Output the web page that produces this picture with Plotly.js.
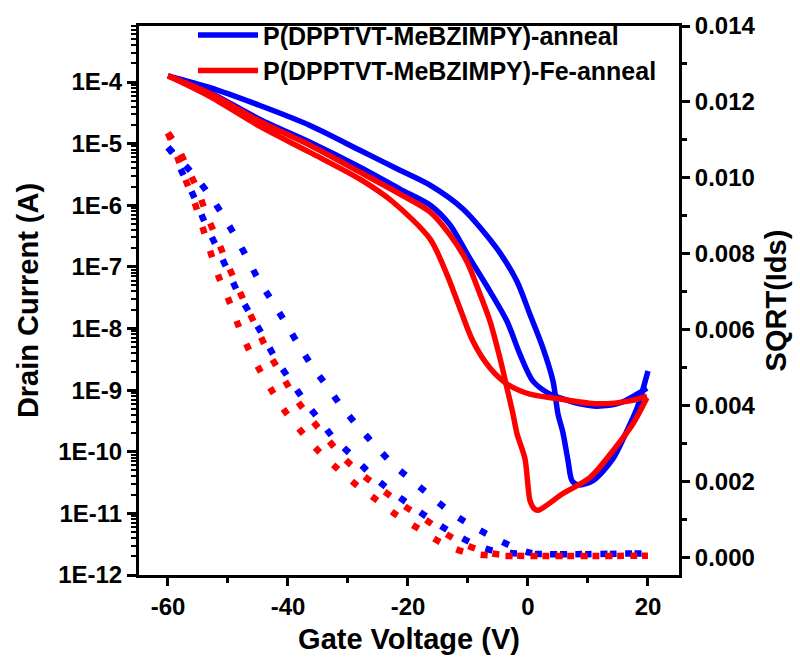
<!DOCTYPE html>
<html><head><meta charset="utf-8">
<script src="https://cdn.plot.ly/plotly-3.0.1.min.js"></script>
<style>html,body{margin:0;padding:0;background:#fff}#chart{width:800px;height:659px}</style>
</head><body><div id="chart"></div>
<script>
// Gate voltage (V) and drain current (A) - transfer curves (log axis)
const vBlueA = [-60,-53,-44.67,-36.33,-28,-21.33,-16.33,-10.83,-5.17,-1.83,0.33,2.5,4.17,5,5.83,6.67,7.33,8.33,10.83,14.17,16.5,18.17,19.17,20];
const iBlueA = [1.26e-4,8.1e-5,4.15e-5,1.97e-5,7.8e-6,3.7e-6,2.12e-6,8.7e-7,1.97e-7,5.8e-8,1.69e-8,4.8e-9,1.4e-9,4.1e-10,2.03e-10,7.2e-11,3.4e-11,2.9e-11,3.4e-11,7.7e-11,2.19e-10,5.1e-10,1.04e-9,2.04e-9];
const vBlueB = [-60,-53,-44.67,-36.33,-28,-21.33,-16.33,-13,-9.67,-6.33,-3.5,-1.33,0.83,3.67,5.33,8.67,11.5,15.33,18.17,19.83];
const iBlueB = [1.26e-4,6.7e-5,2.47e-5,1.05e-5,4.14e-6,1.83e-6,1.01e-6,4.8e-7,1.36e-7,4.0e-8,1.31e-8,3.8e-9,1.4e-9,8.6e-10,7.5e-10,6.0e-10,5.5e-10,6.2e-10,8.6e-10,1.08e-9];
const vRedA = [-60,-53,-44.67,-36.33,-28,-21.33,-16.33,-13,-10.17,-8,-6.33,-4.67,-3.5,-2.5,-1.83,-0.5,0.33,1,1.67,5.83,10.33,14.17,17.5,19.83];
const iRedA = [1.26e-4,6.5e-5,2.29e-5,9.4e-6,3.44e-6,1.52e-6,7.8e-7,3.3e-7,1.21e-7,3.6e-8,1.31e-8,3.3e-9,1.08e-9,4.1e-10,1.96e-10,7.7e-11,1.62e-11,1.2e-11,1.12e-11,2.1e-11,3.8e-11,1.04e-10,2.84e-10,7.5e-10];
const vRedB = [-60,-53,-44.67,-36.33,-28,-22.5,-16.33,-13.5,-11.33,-9.17,-6.33,-3.5,0.33,5.33,11.5,17,19.83];
const iRedB = [1.26e-4,5.8e-5,1.9e-5,7.2e-6,2.65e-6,1.13e-6,2.85e-7,7.5e-8,2.11e-8,6.2e-9,2.28e-9,1.26e-9,8.6e-10,7.2e-10,6.0e-10,6.7e-10,8.0e-10];

// SQRT(Ids) curves (right linear axis)
const vSqBlueA = [-60,-56,-53.33,-51,-48.83,-46.83,-44.83,-42.5,-40.33,-38.17,-35.83,-33.33,-30.83,-28.17,-25.17,-22.33,-19.17,-16,-12.67,-9.17,-5.5,-2.2,0.3,3,8,14,20];
const sqBlueA = [0.0108,0.01013,0.0096,0.00905,0.00847,0.00789,0.00729,0.00671,0.00616,0.00558,0.005,0.00447,0.00392,0.00342,0.00289,0.00242,0.002,0.00158,0.00116,0.00081,0.0005,0.00025,0.00012,0.00008,0.00008,0.00009,0.0001];
const vSqBlueB = [-60,-59.33,-57.5,-55.5,-53.83,-52,-50.17,-48.33,-46.33,-44.17,-42.17,-39.83,-37.5,-35,-32.33,-29.33,-26.17,-23,-19.33,-16,-12.5,-8.5,-5,0,10,20];
const sqBlueB = [0.0108,0.01066,0.0101,0.00944,0.00881,0.00821,0.0076,0.00697,0.00642,0.00584,0.00526,0.00471,0.00418,0.00366,0.00313,0.00268,0.00218,0.00176,0.00134,0.00097,0.00063,0.00031,0.00014,0.00009,0.00008,0.0001];
const vSqRedA = [-60,-58.5,-56.67,-55,-53.5,-51.83,-50.17,-48.5,-46.83,-45,-43.17,-41,-38.83,-36.33,-33.5,-30.83,-27.5,-24.17,-20.83,-17.17,-13.83,-10.17,-6,-2,5,12,20];
const sqRedA = [0.01118,0.01084,0.01023,0.00966,0.009,0.00839,0.00776,0.00716,0.00658,0.00597,0.00537,0.00479,0.00421,0.00368,0.00313,0.00263,0.00216,0.00176,0.00137,0.001,0.00063,0.00031,0.0001,0.00004,0.00003,0.00003,0.00004];
const vSqRedB = [-60,-58.33,-57,-55.5,-54.17,-52.83,-51.5,-49.83,-48.33,-46.67,-44.67,-42.5,-40.33,-37.67,-35,-31.83,-28.5,-25.17,-21.83,-18.33,-14.33,-10.5,-6,0,10,20];
const sqRedB = [0.01118,0.0105,0.00992,0.00931,0.00866,0.008,0.00737,0.00676,0.00613,0.00552,0.00492,0.00434,0.00381,0.00329,0.00281,0.00234,0.00189,0.0015,0.0011,0.00076,0.00037,0.00013,0.00004,0.00003,0.00003,0.00004];

// Tick labels
const xTicks = [-60,-40,-20,0,20];
const xTickText = ['-60','-40','-20','0','20'];
const yTickVals = [1e-12,1e-11,1e-10,1e-9,1e-8,1e-7,1e-6,1e-5,1e-4];
const yTickText = ['1E-12','1E-11','1E-10','1E-9','1E-8','1E-7','1E-6','1E-5','1E-4'];
const legendNames = ['P(DPPTVT-MeBZIMPY)-anneal','P(DPPTVT-MeBZIMPY)-Fe-anneal'];

const BLUE = '#0000ff', RED = '#ff0000';
const minorLog = [];
for (let e = -12; e <= -4; e++) {
  for (let d = 2; d <= 9; d++) {
    const v = d * Math.pow(10, e);
    if (v < 8.1e-4) minorLog.push(v);
  }
}

const solidW = 5.5, dotW = 6.5, dotDash = '7px,18px';
const sl = (c) => ({color:c, width:solidW, shape:'spline', smoothing:0.8});
const dl = (c) => ({color:c, width:dotW, dash:dotDash, shape:'spline', smoothing:0.8});
const traces = [
  {x: vBlueA, y: iBlueA, mode:'lines', line:sl(BLUE), name: legendNames[0], showlegend:true},
  {x: vBlueB, y: iBlueB, mode:'lines', line:sl(BLUE), showlegend:false},
  {x: vRedA, y: iRedA, mode:'lines', line:sl(RED), name: legendNames[1], showlegend:true},
  {x: vRedB, y: iRedB, mode:'lines', line:sl(RED), showlegend:false},
  {x: vSqBlueA, y: sqBlueA, yaxis:'y2', mode:'lines', line:dl(BLUE), showlegend:false},
  {x: vSqBlueB, y: sqBlueB, yaxis:'y2', mode:'lines', line:dl(BLUE), showlegend:false},
  {x: vSqRedA, y: sqRedA, yaxis:'y2', mode:'lines', line:dl(RED), showlegend:false},
  {x: vSqRedB, y: sqRedB, yaxis:'y2', mode:'lines', line:dl(RED), showlegend:false}
];

const FONT = {family:'Arial, "Liberation Sans", sans-serif', weight:'bold', color:'#000'};
const layout = {
  width:800, height:659,
  margin:{l:139, r:121, t:23, b:84, pad:0},
  paper_bgcolor:'#fff', plot_bgcolor:'#fff',
  font: Object.assign({}, FONT, {size:24}),
  showlegend:true,
  legend:{x:0.1, y:1.025, xanchor:'left', yanchor:'top', bgcolor:'rgba(0,0,0,0)',
          font:Object.assign({}, FONT, {size:25}), itemwidth:60, tracegroupgap:0},
  xaxis:{range:[-64.83,25.17], tickmode:'array', tickvals:xTicks, ticktext:xTickText, ticks:'outside', ticklen:8, tickwidth:3,
         tickcolor:'#000', showline:true, linewidth:3, linecolor:'#000', mirror:true, showgrid:false, zeroline:false,
         tickfont:Object.assign({}, FONT, {size:24}),
         minor:{dtick:10, tick0:0, ticks:'outside', ticklen:5, tickwidth:3, tickcolor:'#000', showgrid:false},
         title:{text:'Gate Voltage (V)', font:Object.assign({}, FONT, {size:29}), standoff:10}},
  yaxis:{type:'log', range:[-12,-3.091], tickmode:'array', tickvals:yTickVals, ticktext:yTickText,
         ticks:'outside', ticklen:9, tickwidth:3, tickcolor:'#000', showline:true, linewidth:3, linecolor:'#000',
         showgrid:false, zeroline:false, tickfont:Object.assign({}, FONT, {size:24}),
         minor:{tickmode:'array', tickvals:minorLog, ticks:'outside', ticklen:5, tickwidth:2, tickcolor:'#000', showgrid:false},
         title:{text:'Drain Current (A)', font:Object.assign({}, FONT, {size:29}), standoff:12}},
  yaxis2:{overlaying:'y', side:'right', range:[-0.00047,0.014], tickmode:'linear', tick0:0, dtick:0.002, tickformat:'.3f',
          ticks:'outside', ticklen:8, tickwidth:3, tickcolor:'#000', showline:true, linewidth:3, linecolor:'#000',
          showgrid:false, zeroline:false, tickfont:Object.assign({}, FONT, {size:24}),
          minor:{dtick:0.001, tick0:0, ticks:'outside', ticklen:5, tickwidth:3, tickcolor:'#000', showgrid:false},
          title:{text:'SQRT(Ids)', font:Object.assign({}, FONT, {size:29}), standoff:12}}
};
Plotly.newPlot('chart', traces, layout, {displayModeBar:false, staticPlot:true});
</script>
</body></html>
